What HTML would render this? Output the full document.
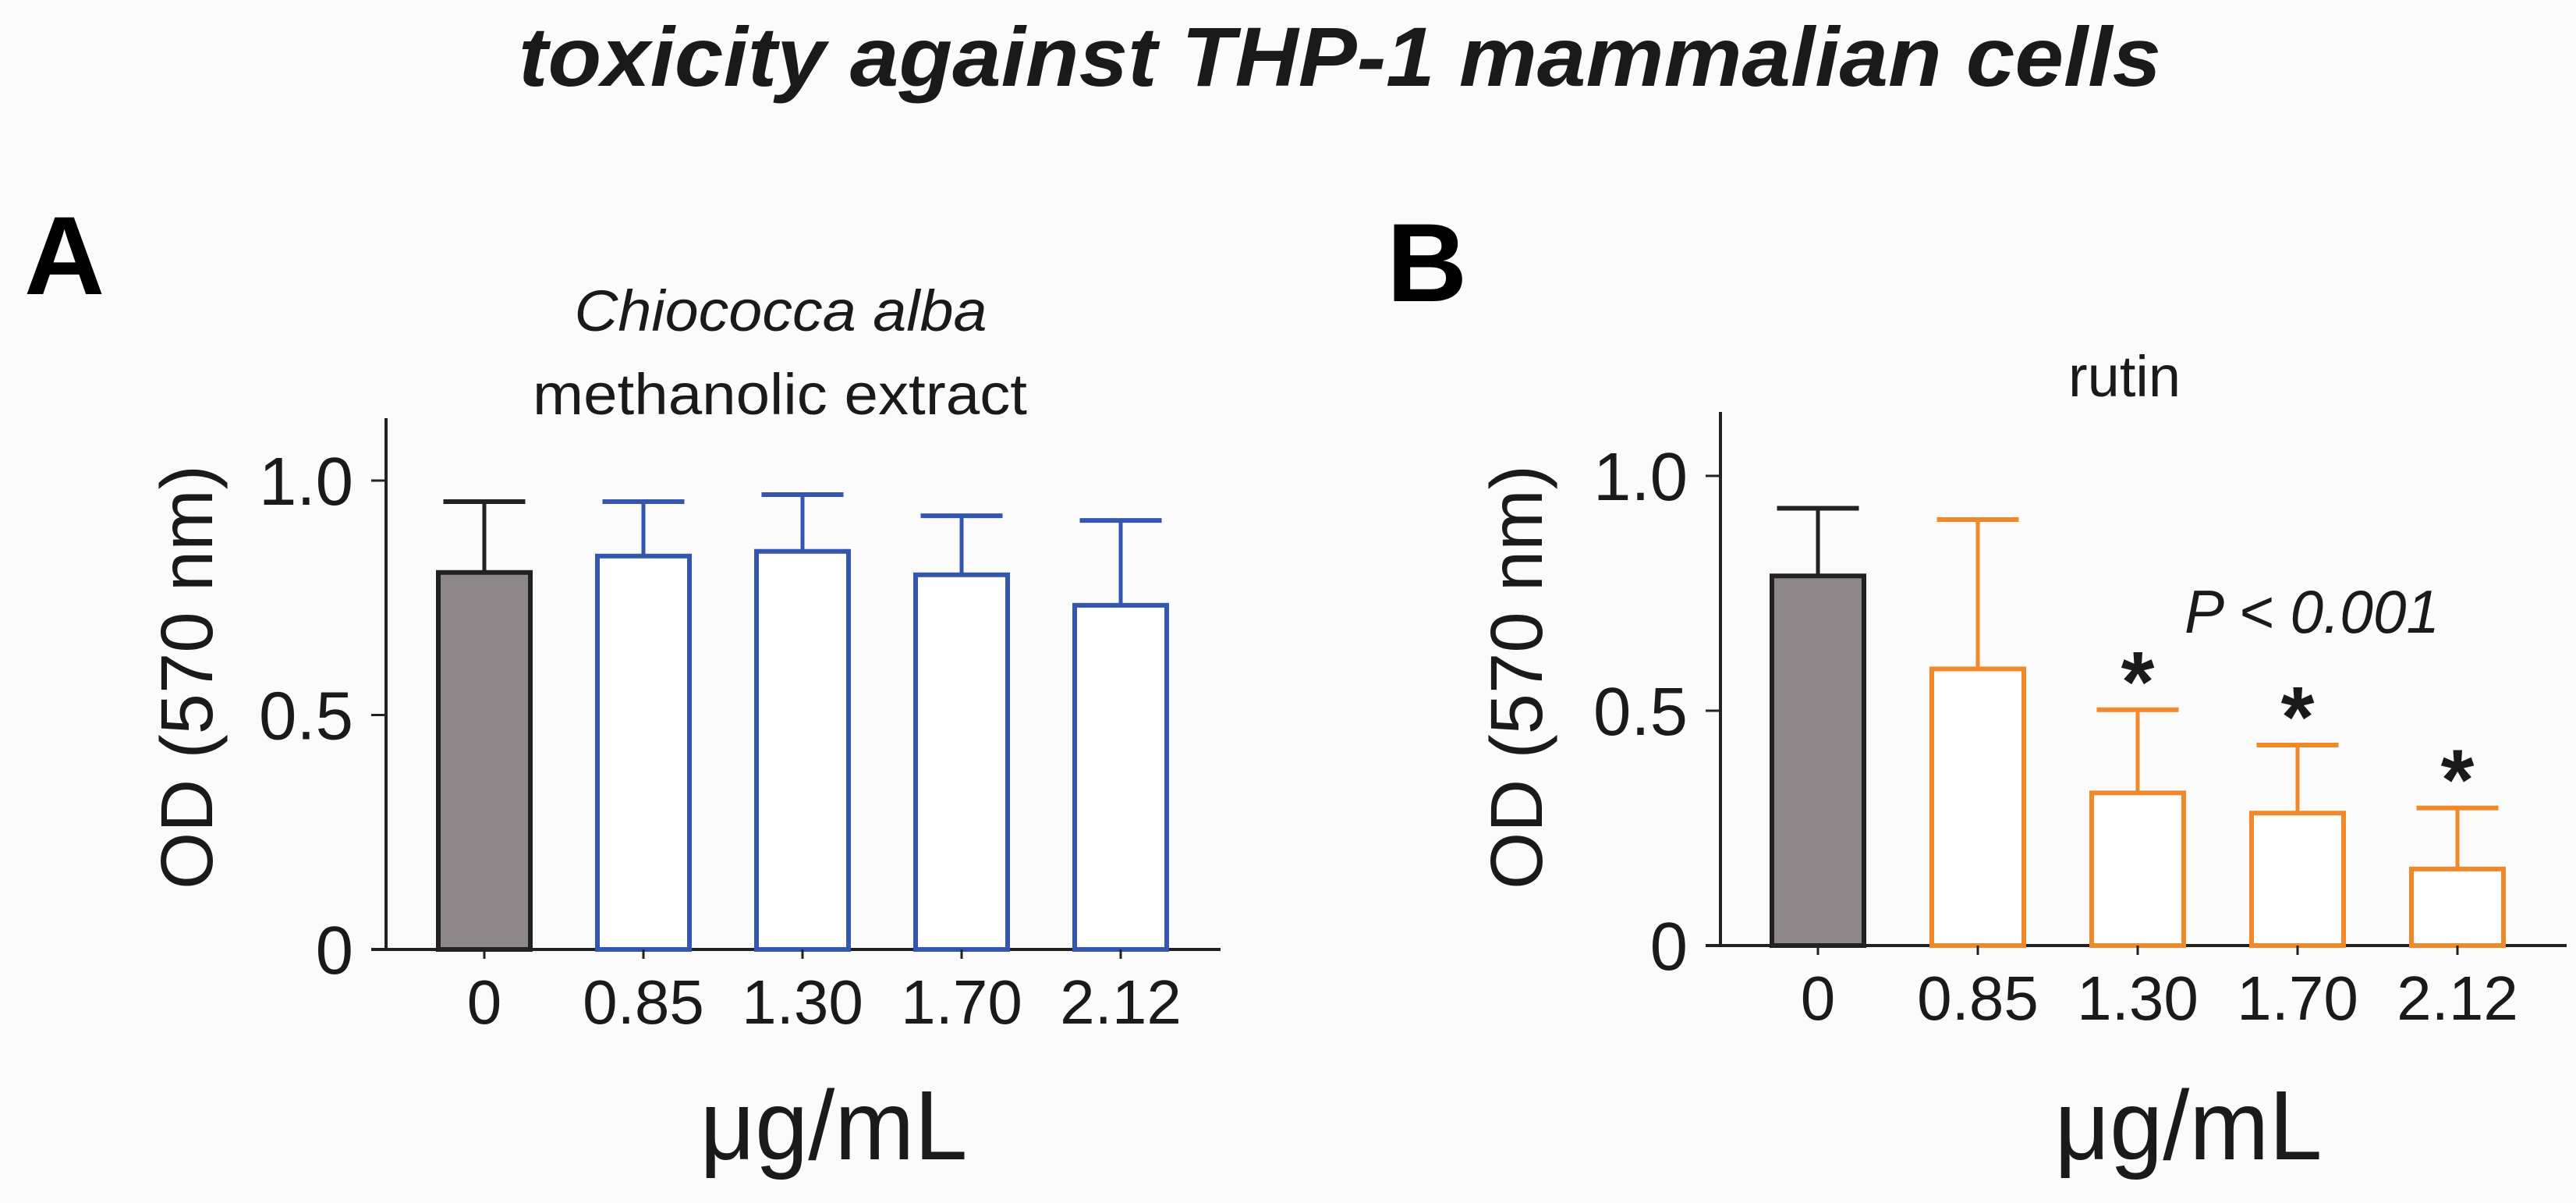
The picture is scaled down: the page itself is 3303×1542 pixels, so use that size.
<!DOCTYPE html>
<html><head><meta charset="utf-8"><style>
html,body{margin:0;padding:0;background:#fbfbfb;}
svg{display:block;font-family:"Liberation Sans",Arial,sans-serif;}
</style></head><body>
<svg id="fig" width="3303" height="1542" viewBox="0 0 3303 1542" xmlns="http://www.w3.org/2000/svg">
<rect x="0" y="0" width="3303" height="1542" fill="#fbfbfb"/>
<text x="1718" y="110" font-size="108" font-weight="bold" font-style="italic" text-anchor="middle" fill="#1a1a1a" textLength="2106" lengthAdjust="spacingAndGlyphs">toxicity against THP-1 mammalian cells</text>
<text x="31" y="377" font-size="143" font-weight="bold" fill="#000">A</text>
<text x="1778" y="386" font-size="143" font-weight="bold" fill="#000">B</text>
<text x="1001" y="424" font-size="74" font-style="italic" text-anchor="middle" fill="#1a1a1a" textLength="529" lengthAdjust="spacingAndGlyphs">Chiococca alba</text>
<text x="1000" y="531" font-size="74" text-anchor="middle" fill="#1a1a1a" textLength="634" lengthAdjust="spacingAndGlyphs">methanolic extract</text>
<text x="2724" y="508" font-size="74" text-anchor="middle" fill="#1a1a1a">rutin</text>
<text x="2801" y="811" font-size="78" font-style="italic" fill="#1a1a1a" textLength="327" lengthAdjust="spacingAndGlyphs">P &lt; 0.001</text>
<g id="panelA"></g>
<g id="panelB"></g>
</svg>
<script>
// Panel A data
const categoriesA = ["0", "0.85", "1.30", "1.70", "2.12"];
const meansA = [0.804, 0.839, 0.849, 0.799, 0.734];
const errTopsA = [0.955, 0.955, 0.970, 0.925, 0.915];
// Panel B data
const categoriesB = ["0", "0.85", "1.30", "1.70", "2.12"];
const meansB = [0.787, 0.589, 0.325, 0.282, 0.163];
const errTopsB = [0.931, 0.907, 0.502, 0.427, 0.293];
const significantB = [false, false, true, true, true];
const yTickValues = [0, 0.5, 1.0];
const yTickLabels = ["0", "0.5", "1.0"];

const NS = "http://www.w3.org/2000/svg";
function mk(parent, tag, attrs) {
  const e = document.createElementNS(NS, tag);
  for (const k in attrs) e.setAttribute(k, attrs[k]);
  parent.appendChild(e);
  return e;
}

function drawPanel(g, cfg, cats, means, tops, sig, color, key) {
  const yS = v => cfg.zero - v * cfg.unit;
  const xS = i => cfg.first + i * cfg.step;
  const ya = mk(g, "line", {x1: cfg.ax, y1: cfg.top, x2: cfg.ax, y2: cfg.zero, stroke: "#222", "stroke-width": 4});
  
  
  const xa = mk(g, "line", {x1: cfg.ax - 19, y1: cfg.zero, x2: cfg.xend, y2: cfg.zero, stroke: "#222", "stroke-width": 4});
  
  
  yTickValues.forEach((v, i) => {
    const t = mk(g, "line", {x1: cfg.ax - 19, y1: yS(v), x2: cfg.ax, y2: yS(v), stroke: "#222", "stroke-width": 3});
    
    
    const l = mk(g, "text", {x: cfg.ax - 42, y: yS(v) + 31, "font-size": 87, "text-anchor": "end", fill: "#1a1a1a"});
    l.textContent = yTickLabels[i];
    
    
  });
  const yt = mk(g, "text", {x: 0, y: 0, "font-size": 95, "text-anchor": "middle", fill: "#1a1a1a", textLength: 544, lengthAdjust: "spacingAndGlyphs", transform: "translate(" + cfg.ytx + "," + 868 + ") rotate(-90)"});
  yt.textContent = "OD (570 nm)";
  
  
  const bw = 118, cw = 105;
  cats.forEach((c, i) => {
    const cx = xS(i);
    const isCtrl = i === 0;
    const col = isCtrl ? "#222" : color;
    const el = mk(g, "line", {x1: cx, y1: yS(means[i]), x2: cx, y2: yS(tops[i]), stroke: col, "stroke-width": 5});
    
    
    const cap = mk(g, "line", {x1: cx - cw / 2, y1: yS(tops[i]), x2: cx + cw / 2, y2: yS(tops[i]), stroke: col, "stroke-width": 6});
    
    
    const b = mk(g, "rect", {x: cx - bw / 2, y: yS(means[i]), width: bw, height: yS(0) - yS(means[i]), fill: isCtrl ? "#8e878a" : "#ffffff", stroke: col, "stroke-width": 6});
    
    
    const tk = mk(g, "line", {x1: cx, y1: cfg.zero, x2: cx, y2: cfg.zero + 12, stroke: "#222", "stroke-width": 3});
    
    
    const lb = mk(g, "text", {x: cx, y: cfg.zero + 95, "font-size": 80, "text-anchor": "middle", fill: "#1a1a1a"});
    lb.textContent = c;
    
    
    if (sig && sig[i]) {
      const s = mk(g, "text", {x: cx, y: yS(tops[i]) + 2, "font-size": 110, "font-weight": "bold", "text-anchor": "middle", fill: "#1a1a1a"});
      s.textContent = "*";
      
      
    }
  });
  const xt = mk(g, "text", {x: cfg.xtx, y: 1486, "font-size": 126, "text-anchor": "middle", fill: "#1a1a1a", textLength: 343, lengthAdjust: "spacingAndGlyphs"});
  xt.textContent = "\u03bcg/mL";
  
  
}

drawPanel(document.getElementById("panelA"),
  {ax: 495, top: 536, zero: 1217, unit: 601, first: 621, step: 204, xend: 1565, ytx: 272, xtx: 1069},
  categoriesA, meansA, errTopsA, null, "#3556ae", "panel-a");
drawPanel(document.getElementById("panelB"),
  {ax: 2206, top: 528, zero: 1212, unit: 602, first: 2331, step: 205, xend: 3291, ytx: 1977, xtx: 2806},
  categoriesB, meansB, errTopsB, significantB, "#f0892a", "panel-b");
</script>
</body></html>
